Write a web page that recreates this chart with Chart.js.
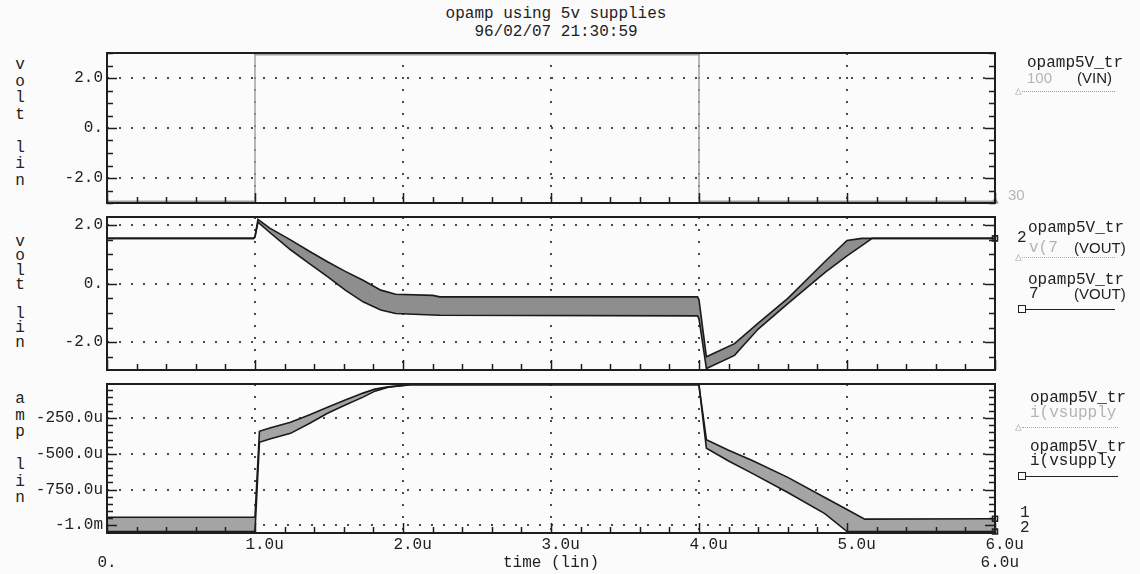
<!DOCTYPE html>
<html>
<head>
<meta charset="utf-8">
<script src="https://cdn.jsdelivr.net/npm/chart.js@4.4.0/dist/chart.umd.min.js"></script>
<style>
body { margin: 0; background: #fbfbfb; }
#page { position: relative; width: 1140px; height: 574px; overflow: hidden;
        font-family: 'Liberation Mono', monospace; font-size: 16px; color: #222; }
canvas { position: absolute; left: 0; }
.t { position: absolute; white-space: pre; line-height: 16px; }
.ax { position: absolute; left: 14px; width: 12px; text-align: center; }
.sans { font-family: 'Liberation Sans', sans-serif; font-size: 15px; }
.gray { color: #b4b4b4; }
.ln { position: absolute; height: 0; }
.sq { position: absolute; width: 6px; height: 6px; border: 1.5px solid #222; }
.tri { position: absolute; font-size: 11px; line-height: 11px; color: #aaa; }
</style>
</head>
<body>
<div id="page">
  <div class="t" style="left:0;width:1112px;text-align:center;top:5px;line-height:18px">opamp using 5v supplies
96/02/07 21:30:59</div>

  <div class="ax" style="top:57px;line-height:16.5px">v<br>o<br>l<br>t<br><br>l<br>i<br>n</div>
  <div class="ax" style="top:235px;line-height:14.4px">v<br>o<br>l<br>t<br><br>l<br>i<br>n</div>
  <div class="ax" style="top:391px;line-height:16.5px">a<br>m<br>p<br><br>l<br>i<br>n</div>

  <canvas id="c1" width="1140" height="166" style="top:45px"></canvas>
  <canvas id="c2" width="1140" height="167" style="top:211px"></canvas>
  <canvas id="c3" width="1140" height="196" style="top:378px"></canvas>

  <!-- legend, top panel -->
  <div class="t" style="left:1027px;top:55px">opamp5V_tr</div>
  <div class="t sans gray" style="left:1027px;top:70px">100</div>
  <div class="t sans" style="left:1077px;top:70px">(VIN)</div>
  <div class="ln" style="left:1022px;top:91px;width:93px;border-top:1.5px dotted #999"></div>
  <div class="tri" style="left:1015px;top:86px">&#9651;</div>
  <div class="t sans gray" style="left:1008px;top:187px">30</div>

  <!-- legend, middle panel -->
  <div class="t" style="left:1017px;top:230px">2</div>
  <div class="t" style="left:1028px;top:220px">opamp5V_tr</div>
  <div class="t gray" style="left:1029px;top:240px">v(7</div>
  <div class="t sans" style="left:1074px;top:240px">(VOUT)</div>
  <div class="ln" style="left:1022px;top:257px;width:93px;border-top:1.5px dotted #aaa"></div>
  <div class="tri" style="left:1015px;top:252px">&#9651;</div>
  <div class="t" style="left:1028px;top:272px">opamp5V_tr</div>
  <div class="t" style="left:1029px;top:286px">7</div>
  <div class="t sans" style="left:1074px;top:286px">(VOUT)</div>
  <div class="sq" style="left:1018px;top:305px"></div>
  <div class="ln" style="left:1026px;top:309px;width:89px;border-top:1.5px solid #222"></div>

  <!-- legend, bottom panel -->
  <div class="t" style="left:1030px;top:390px">opamp5V_tr</div>
  <div class="t gray" style="left:1030px;top:405px">i(vsupply</div>
  <div class="ln" style="left:1022px;top:427px;width:96px;border-top:1.5px dotted #aaa"></div>
  <div class="tri" style="left:1015px;top:422px">&#9651;</div>
  <div class="t" style="left:1030px;top:439px">opamp5V_tr</div>
  <div class="t" style="left:1030px;top:453px">i(vsupply</div>
  <div class="sq" style="left:1018px;top:472px"></div>
  <div class="ln" style="left:1026px;top:476px;width:92px;border-top:1.5px solid #222"></div>
  <div class="t" style="left:1020px;top:505px">1</div>
  <div class="t" style="left:1020px;top:520px">2</div>
</div>

<script>
// time axis, in microseconds
var xTicks = [0, 1, 2, 3, 4, 5, 6];
var xLabels = [['', '0.'], '  1.0u', '  2.0u', ['  3.0u', 'time (lin)'], '  4.0u', '  5.0u', ['  6.0u', ' 6.0u']];

// top panel: VIN (runs just inside the plot edges)
var vinT = [0, 1, 1, 4, 4, 6];
var vinV = [-2.93, -2.93, 2.93, 2.93, -2.93, -2.93];

// volt panels tick labels
var voltTicks = [-2, 0, 2];
var voltLabels = ['-2.0', '0.', '2.0'];

// middle panel: VOUT, upper and lower edge of the spread
var voutT  = [0, 0.99, 1.0, 1.02, 1.1, 1.24, 1.37, 1.49, 1.61, 1.73, 1.85, 1.95, 2.2, 2.25, 3.99, 4.0, 4.05, 4.24, 4.4, 4.6, 4.85, 5.0, 5.1, 5.17, 6.0];
var voutHi = [1.55, 1.55, 1.6, 2.2, 1.9, 1.5, 1.1, 0.75, 0.42, 0.12, -0.22, -0.36, -0.4, -0.45, -0.45, -0.55, -2.5, -2.05, -1.35, -0.5, 0.75, 1.48, 1.55, 1.55, 1.55];
var voutLo = [1.55, 1.55, 1.6, 2.1, 1.75, 1.16, 0.68, 0.24, -0.22, -0.62, -0.9, -1.02, -1.07, -1.08, -1.1, -1.2, -2.9, -2.45, -1.55, -0.68, 0.38, 0.95, 1.3, 1.55, 1.55];

// bottom panel: i(vsupply) in uA
var iT  = [0, 0.99, 1.0, 1.03, 1.1, 1.24, 1.37, 1.49, 1.61, 1.73, 1.81, 1.9, 2.05, 3.99, 4.0, 4.05, 4.2, 4.36, 4.6, 4.85, 5.0, 5.12, 6.0];
var iHi = [-945, -945, -940, -342, -318, -278, -225, -173, -122, -74, -46, -30, -15, -15, -20, -400, -475, -546, -665, -806, -890, -958, -955];
var iLo = [-1045, -1045, -1040, -419, -395, -356, -285, -215, -158, -102, -60, -32, -15, -15, -20, -460, -550, -637, -771, -919, -1045, -1045, -1045];
var ampTicks = [-1000, -750, -500, -250];
var ampLabels = ['-1.0m', '-750.0u', '-500.0u', '-250.0u'];

var monoFont = 'Liberation Mono';

function pts(t, v) {
    return t.map(function(x, i) { return {x: x, y: v[i]}; });
}

function lastOnly(r) {
    return function(c) { return c.dataIndex === c.dataset.data.length - 1 ? r : 0; };
}

function gridColor(c) {
    var v = c.tick ? c.tick.value : null;
    return (v === 0 || v === 6) ? 'rgba(0,0,0,0)' : '#4a4a4a';
}

// frame + the small inward tick marks, placed from the chart's own scales
function framePlugin(minor, major) {
    return {
        id: 'frame',
        afterDatasetsDraw: function(chart) {
            var ctx = chart.ctx, a = chart.chartArea;
            var x = chart.scales.x, y = chart.scales.y;
            ctx.save();
            ctx.strokeStyle = '#1e1e1e';
            ctx.lineWidth = 1.5;
            ctx.setLineDash([]);
            ctx.beginPath();
            for (var i = 0; i <= 30; i++) {
                var px = Math.round(x.getPixelForValue(i * 0.2)) + 0.5;
                var len = (i % 5 === 0) ? 10 : 6;
                ctx.moveTo(px, a.bottom);
                ctx.lineTo(px, a.bottom - len);
            }
            var k0 = Math.ceil(y.min / minor - 1e-9), k1 = Math.floor(y.max / minor + 1e-9);
            for (var k = k0; k <= k1; k++) {
                var v = k * minor;
                var py = Math.round(y.getPixelForValue(v)) + 0.5;
                var r = v / major;
                var l = Math.abs(r - Math.round(r)) < 1e-6 ? 10 : 6;
                ctx.moveTo(a.left, py); ctx.lineTo(a.left + l, py);
                ctx.moveTo(a.right, py); ctx.lineTo(a.right - l, py);
            }
            ctx.stroke();
            ctx.lineWidth = 2;
            ctx.strokeRect(a.left, a.top, a.right - a.left, a.bottom - a.top);
            ctx.restore();
        }
    };
}

function timeScale(showLabels) {
    return {
        type: 'linear', min: 0, max: 6,
        afterBuildTicks: function(s) { s.ticks = xTicks.map(function(v) { return {value: v}; }); },
        afterFit: function(s) {
            s.height = showLabels ? 41 : 0;
            s.paddingLeft = 0; s.paddingRight = 0;
        },
        grid: { color: gridColor, lineWidth: 2, drawTicks: false },
        border: { display: false, dash: [2, 10] },
        ticks: {
            display: showLabels, padding: 3, maxRotation: 0, autoSkip: false, color: '#222',
            font: { family: monoFont, size: 16, lineHeight: 1.125 },
            callback: function(v) { return xLabels[xTicks.indexOf(v)]; }
        }
    };
}

function valueScale(min, max, ticks, labels) {
    return {
        type: 'linear', min: min, max: max,
        afterBuildTicks: function(s) { s.ticks = ticks.map(function(v) { return {value: v}; }); },
        afterFit: function(s) {
            s.width = 107;
            s.paddingTop = 0; s.paddingBottom = 0;
        },
        grid: { color: '#4a4a4a', lineWidth: 2, drawTicks: false },
        border: { display: false, dash: [2, 10] },
        ticks: {
            padding: 4, color: '#222', font: { family: monoFont, size: 16 },
            callback: function(v) { return labels[ticks.indexOf(v)]; }
        }
    };
}

function makePanel(id, datasets, yScale, showX, pad, minor, major) {
    return new Chart(document.getElementById(id), {
        type: 'line',
        data: { datasets: datasets },
        options: {
            responsive: false,
            animation: false,
            layout: { padding: { left: 0, right: 145, top: pad[0], bottom: pad[1] } },
            scales: { x: timeScale(showX), y: yScale },
            plugins: { legend: { display: false }, tooltip: { enabled: false } }
        },
        plugins: [framePlugin(minor, major)]
    });
}

makePanel('c1', [{
    data: pts(vinT, vinV),
    borderColor: '#a2a2a2', borderWidth: 1.5, tension: 0, clip: false,
    pointRadius: lastOnly(3), pointStyle: 'triangle',
    pointBorderColor: '#999', pointBackgroundColor: 'rgba(0,0,0,0)'
}], valueScale(-3, 3, voltTicks, voltLabels), false, [8, 8], 0.5, 2);

makePanel('c2', [{
    data: pts(voutT, voutHi),
    borderColor: '#1a1a1a', borderWidth: 1.6, tension: 0, clip: false,
    pointRadius: lastOnly(3.5), pointStyle: 'rect',
    pointBorderColor: '#222', pointBackgroundColor: 'rgba(0,0,0,0)'
}, {
    data: pts(voutT, voutLo),
    borderColor: '#1a1a1a', borderWidth: 1.6, tension: 0, clip: false,
    fill: '-1', backgroundColor: '#8e8e8e', pointRadius: 0
}], valueScale(-2.95, 2.28, voltTicks, voltLabels), false, [6, 8], 0.5, 2);

makePanel('c3', [{
    data: pts(iT, iHi),
    borderColor: '#1a1a1a', borderWidth: 1.6, tension: 0, clip: false,
    pointRadius: lastOnly(3.5), pointStyle: 'rect',
    pointBorderColor: '#222', pointBackgroundColor: 'rgba(0,0,0,0)'
}, {
    data: pts(iT, iLo),
    borderColor: '#1a1a1a', borderWidth: 1.6, tension: 0, clip: false,
    fill: '-1', backgroundColor: '#a4a4a4',
    pointRadius: lastOnly(3.5), pointStyle: 'rect',
    pointBorderColor: '#222', pointBackgroundColor: 'rgba(0,0,0,0)'
}], valueScale(-1055, -10, ampTicks, ampLabels), true, [6, 0], 50, 250);
</script>
</body>
</html>
